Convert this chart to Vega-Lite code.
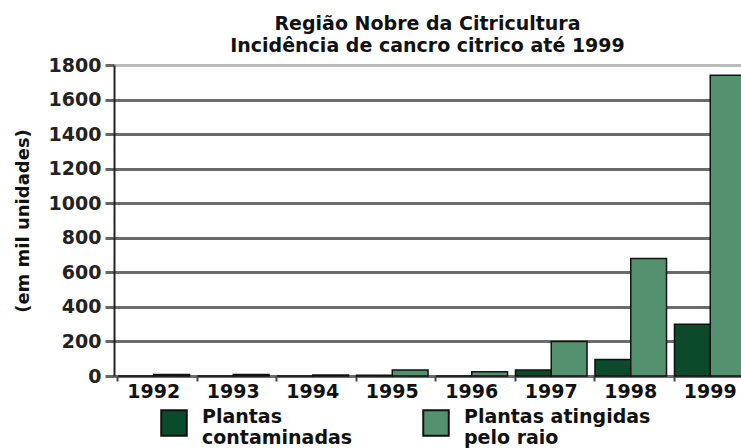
{
  "$schema": "https://vega.github.io/schema/vega-lite/v6.json",
  "autosize": {"type": "none"},
  "width": 627,
  "height": 311,
  "padding": {"left": 114, "top": 65, "right": 0, "bottom": 72},
  "background": "white",
  "title": {
    "text": ["Região Nobre da Citricultura", "Incidência de cancro citrico até 1999"],
    "font": "DejaVu Sans",
    "fontSize": 19,
    "fontWeight": "bold",
    "color": "#111",
    "anchor": "middle",
    "offset": 0,
    "lineHeight": 22
  },
  "config": {
    "view": {"stroke": null},
    "font": "DejaVu Sans"
  },
  "data": {
    "values": [
      {"ano": "1992", "serie": "Plantas contaminadas", "valor": 0},
      {"ano": "1992", "serie": "Plantas atingidas pelo raio", "valor": 8},
      {"ano": "1993", "serie": "Plantas contaminadas", "valor": 0},
      {"ano": "1993", "serie": "Plantas atingidas pelo raio", "valor": 8},
      {"ano": "1994", "serie": "Plantas contaminadas", "valor": 0},
      {"ano": "1994", "serie": "Plantas atingidas pelo raio", "valor": 6},
      {"ano": "1995", "serie": "Plantas contaminadas", "valor": 5},
      {"ano": "1995", "serie": "Plantas atingidas pelo raio", "valor": 35},
      {"ano": "1996", "serie": "Plantas contaminadas", "valor": 0},
      {"ano": "1996", "serie": "Plantas atingidas pelo raio", "valor": 25},
      {"ano": "1997", "serie": "Plantas contaminadas", "valor": 35},
      {"ano": "1997", "serie": "Plantas atingidas pelo raio", "valor": 200},
      {"ano": "1998", "serie": "Plantas contaminadas", "valor": 95},
      {"ano": "1998", "serie": "Plantas atingidas pelo raio", "valor": 680},
      {"ano": "1999", "serie": "Plantas contaminadas", "valor": 300},
      {"ano": "1999", "serie": "Plantas atingidas pelo raio", "valor": 1740}
    ]
  },
  "mark": {"type": "bar", "stroke": "#111", "strokeWidth": 1.5},
  "encoding": {
    "x": {
      "field": "ano",
      "type": "nominal",
      "scale": {"range": [0, 636], "paddingInner": 0.1, "paddingOuter": 0.05},
      "axis": {
        "title": null,
        "labelAngle": 0,
        "labelFont": "DejaVu Sans",
        "labelFontSize": 19,
        "labelFontWeight": "bold",
        "labelColor": "#111",
        "labelPadding": 1,
        "domain": false,
        "ticks": true,
        "bandPosition": 0,
        "tickSize": 5,
        "tickColor": "#444",
        "tickWidth": 2,
        "grid": false
      }
    },
    "xOffset": {"field": "serie", "sort": ["Plantas contaminadas", "Plantas atingidas pelo raio"]},
    "y": {
      "field": "valor",
      "type": "quantitative",
      "scale": {"domain": [0, 1800], "nice": false},
      "axis": {
        "title": "(em mil unidades)",
        "titleFont": "DejaVu Sans",
        "titleFontSize": 18,
        "titleFontWeight": "bold",
        "titleColor": "#111",
        "titlePadding": 16,
        "values": [0, 200, 400, 600, 800, 1000, 1200, 1400, 1600, 1800],
        "format": "d",
        "labelFont": "DejaVu Sans",
        "labelFontSize": 19,
        "labelFontWeight": "bold",
        "labelColor": "#222",
        "labelPadding": 4,
        "tickSize": 9,
        "tickColor": "#666",
        "tickWidth": 3,
        "domainColor": "#222",
        "domainWidth": 2,
        "grid": true,
        "gridColor": {"condition": {"test": "datum.value == 1800", "value": "#bbbbbb"}, "value": "#6b6b6b"},
        "gridWidth": 3
      }
    },
    "color": {
      "field": "serie",
      "type": "nominal",
      "scale": {"domain": ["Plantas contaminadas", "Plantas atingidas pelo raio"], "range": ["#0c4a2c", "#54916f"]},
      "legend": {
        "title": null,
        "orient": "none",
        "legendX": 46,
        "legendY": 344,
        "direction": "horizontal",
        "columnPadding": 66,
        "symbolType": "square",
        "symbolSize": 650,
        "symbolStrokeColor": "#111",
        "symbolStrokeWidth": 2,
        "symbolOpacity": 1,
        "labelFont": "DejaVu Sans",
        "labelFontSize": 19,
        "labelFontWeight": "bold",
        "labelColor": "#111",
        "labelOffset": 14,
        "labelLimit": 300,
        "labelBaseline": "alphabetic",
        "labelLineHeight": 19,
        "labelExpr": "datum.label == 'Plantas contaminadas' ? ['Plantas', 'contaminadas'] : ['Plantas atingidas', 'pelo raio']"
      }
    }
  }
}
